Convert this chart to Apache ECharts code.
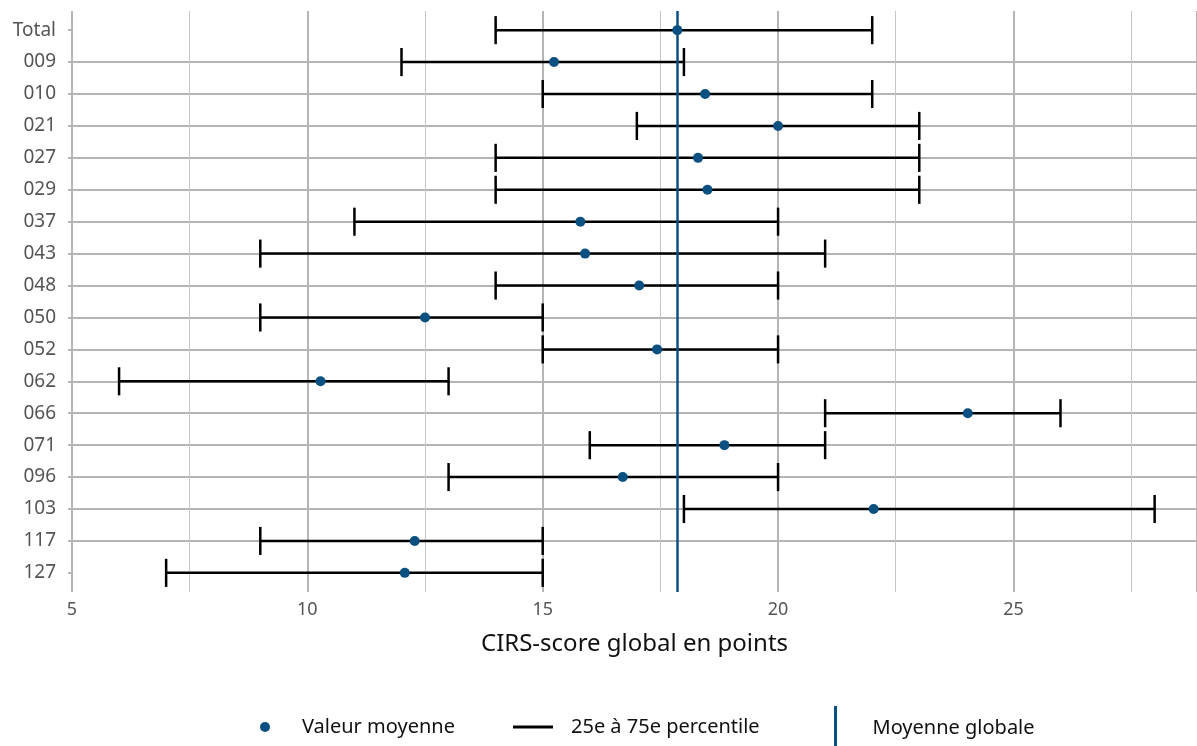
<!DOCTYPE html>
<html>
<head>
<meta charset="utf-8">
<script src="https://cdn.jsdelivr.net/npm/echarts@6/dist/echarts.min.js"></script>
<style>
  html, body { margin: 0; padding: 0; background: #fff; }
  #main { width: 1197px; height: 746px; }
</style>
</head>
<body>
<div id="main"></div>
<script>
// catégories de haut en bas
const categories = ['Total', '009', '010', '021', '027', '029', '037', '043', '048', '050',
  '052', '062', '066', '071', '096', '103', '117', '127'];
const meanValues = [17.86, 15.24, 18.45, 20.0, 18.3, 18.5, 15.8, 15.9, 17.05, 12.5,
  17.43, 10.28, 24.03, 18.86, 16.7, 22.03, 12.28, 12.07];
const p25Values = [14, 12, 15, 17, 14, 14, 11, 9, 14, 9, 15, 6, 21, 16, 13, 18, 9, 7];
const p75Values = [22, 18, 22, 23, 23, 23, 20, 21, 20, 15, 20, 13, 26, 21, 20, 28, 15, 15];
const globalMean = 17.85;
const xTicks = [5, 10, 15, 20, 25];

const blue = '#0a5080';
const gridGray = '#b5b5b5';
const font = 'Noto Sans';

const catIndex = categories.map((c, i) => i);

let option = {
  backgroundColor: '#fff',
  animation: false,
  textStyle: { fontFamily: font },
  grid: { left: 72, right: 0, top: 11, bottom: 154 },
  xAxis: {
    type: 'value',
    min: 5,
    max: 28.9,
    interval: 5,
    axisLine: { show: false },
    axisTick: { show: false },
    axisLabel: {
      color: '#555',
      fontSize: 18,
      margin: 9,
      customValues: xTicks,
      formatter: v => String(v)
    },
    splitLine: { show: true, lineStyle: { color: gridGray, width: 2 } },
    minorTick: { show: false, splitNumber: 2 },
    minorSplitLine: { show: true, lineStyle: { color: '#c6c6c6', width: 1 } },
    name: 'CIRS-score global en points',
    nameLocation: 'middle',
    nameGap: 40,
    nameTextStyle: { color: '#111', fontSize: 24, fontFamily: font }
  },
  yAxis: {
    type: 'value',
    inverse: true,
    min: -0.6,
    max: categories.length - 1 + 0.6,
    axisLine: { show: false },
    axisTick: {
      show: true, length: 4, customValues: catIndex,
      lineStyle: { color: gridGray, width: 2 }
    },
    axisLabel: {
      color: '#555',
      fontSize: 19,
      margin: 16,
      customValues: catIndex,
      formatter: v => categories[v] || ''
    },
    splitLine: {
      show: true, showMinLine: false, showMaxLine: false,
      lineStyle: { color: gridGray, width: 2 }
    }
  },
  legend: [
    {
      data: [{ name: 'Valeur moyenne', icon: 'circle' }],
      left: 260, top: 717, padding: 0,
      itemWidth: 64, itemHeight: 10,
      textStyle: { color: '#111', fontSize: 20, fontFamily: font }
    },
    {
      data: [{ name: '25e à 75e percentile', icon: 'rect' }],
      left: 513, top: 717, padding: 0,
      itemWidth: 40, itemHeight: 3,
      textStyle: { color: '#111', fontSize: 20, fontFamily: font, padding: [0, 0, 0, 13] }
    },
    {
      data: [{ name: 'Moyenne globale', icon: 'path://M0,0h3v44h-3z' }],
      left: 834, top: 706, padding: 0,
      itemWidth: 64, itemHeight: 44,
      textStyle: { color: '#111', fontSize: 20, fontFamily: font }
    }
  ],
  series: [
    {
      name: 'Moyenne globale',
      type: 'line',
      data: [],
      itemStyle: { color: blue },
      lineStyle: { color: blue },
      markLine: {
        silent: true,
        symbol: ['none', 'none'],
        label: { show: false },
        lineStyle: { color: blue, width: 2.5, type: 'solid' },
        data: [{ xAxis: globalMean }]
      },
      z: 3
    },
    {
      name: '25e à 75e percentile',
      type: 'custom',
      itemStyle: { color: '#000' },
      data: categories.map((c, i) => [i, p25Values[i], p75Values[i]]),
      encode: { x: [1, 2], y: 0 },
      renderItem: function (params, api) {
        const y = api.value(0);
        const lo = api.coord([api.value(1), y]);
        const hi = api.coord([api.value(2), y]);
        const h = api.size([0, 1])[1] * 0.44;
        const style = { stroke: '#000', lineWidth: 2.5 };
        return {
          type: 'group',
          children: [
            { type: 'line', shape: { x1: lo[0], y1: lo[1], x2: hi[0], y2: hi[1] }, style: style },
            { type: 'line', shape: { x1: lo[0], y1: lo[1] - h, x2: lo[0], y2: lo[1] + h }, style: style },
            { type: 'line', shape: { x1: hi[0], y1: hi[1] - h, x2: hi[0], y2: hi[1] + h }, style: style }
          ]
        };
      },
      z: 2
    },
    {
      name: 'Valeur moyenne',
      type: 'scatter',
      symbol: 'circle',
      symbolSize: 10,
      itemStyle: { color: blue, opacity: 1 },
      data: categories.map((c, i) => [meanValues[i], i]),
      z: 4
    }
  ]
};

let myChart = echarts.init(document.getElementById('main'));
myChart.setOption(option);
</script>
</body>
</html>
